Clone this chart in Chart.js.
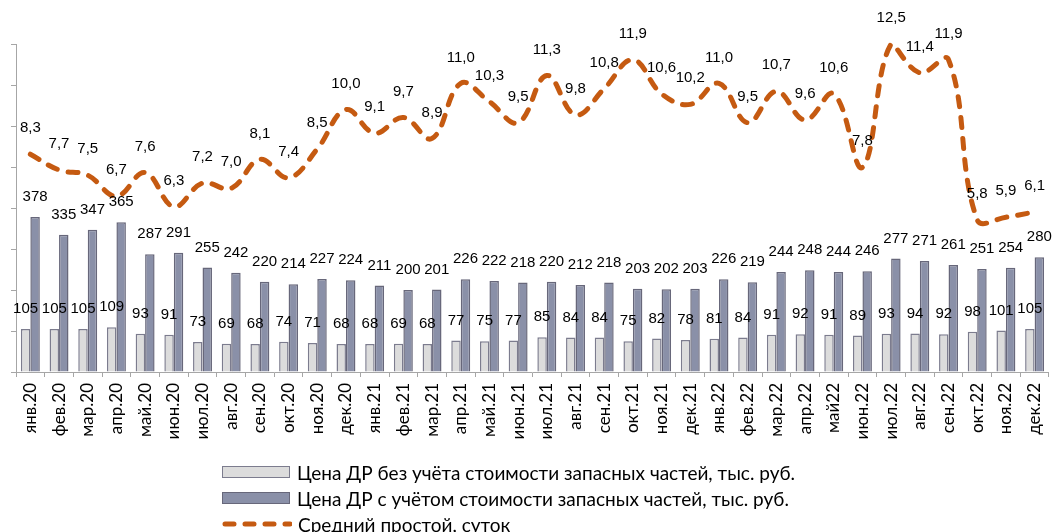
<!DOCTYPE html>
<html>
<head>
<meta charset="utf-8">
<script src="https://cdn.jsdelivr.net/npm/chart.js@4/dist/chart.umd.min.js"></script>
<style>
  html, body { margin: 0; padding: 0; background: #fff; }
  #wrap { position: relative; width: 1061px; height: 532px; overflow: hidden; }
  #legend { position: absolute; left: 222px; top: 459px; font-family: Lato, "Open Sans", sans-serif; font-size: 19px; color: #000; }
  .row { display: flex; align-items: center; height: 26px; white-space: nowrap; }
  .box { width: 66px; height: 10px; border: 1.5px solid #6f6f82; margin-right: 7px; }
  .row svg { margin-right: 6px; }
</style>
</head>
<body>
<div id="wrap">
  <canvas id="c" width="1061" height="532"></canvas>
  <div id="legend"></div>
</div>
<script>
const categories = [
  "янв.20","фев.20","мар.20","апр.20","май.20","июн.20","июл.20","авг.20","сен.20","окт.20","ноя.20","дек.20",
  "янв.21","фев.21","мар.21","апр.21","май.21","июн.21","июл.21","авг.21","сен.21","окт.21","ноя.21","дек.21",
  "янв.22","фев.22","мар.22","апр.22","май22","июн.22","июл.22","авг.22","сен.22","окт.22","ноя.22","дек.22"
];
const priceWithoutParts = [
  105,105,105,109,93,91,73,69,68,74,71,68,
  68,69,68,77,75,77,85,84,84,75,82,78,
  81,84,91,92,91,89,93,94,92,98,101,105
];
const priceWithParts = [
  378,335,347,365,287,291,255,242,220,214,227,224,
  211,200,201,226,222,218,220,212,218,203,202,203,
  226,219,244,248,244,246,277,271,261,251,254,280
];
const avgDowntime = [
  8.3,7.7,7.5,6.7,7.6,6.3,7.2,7.0,8.1,7.4,8.5,10.0,
  9.1,9.7,8.9,11.0,10.3,9.5,11.3,9.8,10.8,11.9,10.6,10.2,
  11.0,9.5,10.7,9.6,10.6,7.8,12.5,11.4,11.9,5.8,5.9,6.1
];
const seriesNames = [
  "Цена ДР без учёта стоимости запасных частей, тыс. руб.",
  "Цена ДР с учётом стоимости запасных частей, тыс. руб.",
  "Средний простой, суток"
];

const ORANGE = '#c55a11';
const AXIS = '#a6a6a6';

const labelPlugin = {
  id: 'valueLabels',
  afterDatasetsDraw(chart) {
    const ctx = chart.ctx;
    ctx.save();
    ctx.font = '15px "Liberation Sans", Arial, sans-serif';
    ctx.fillStyle = '#000';
    ctx.textAlign = 'center';
    ctx.textBaseline = 'middle';
    chart.data.datasets.forEach((ds, di) => {
      const meta = chart.getDatasetMeta(di);
      meta.data.forEach((el, i) => {
        const v = ds.data[i];
        if (ds.type === 'line') {
          ctx.fillText(v.toFixed(1).replace('.', ','), el.x, el.y - 26);
        } else {
          ctx.fillText(String(v), el.x, el.y - 20);
        }
      });
    });
    ctx.restore();
  }
};

const chart = new Chart(document.getElementById('c'), {
  data: {
    labels: categories,
    datasets: [
      {
        type: 'line', label: seriesNames[2], data: avgDowntime, yAxisID: 'y1',
        borderColor: ORANGE, borderWidth: 5, borderDash: [10, 11], borderCapStyle: 'round',
        pointRadius: 0, tension: 0.4, clip: false, order: 0, fill: false
      },
      {
        type: 'bar', label: seriesNames[0], data: priceWithoutParts, yAxisID: 'y',
        backgroundColor: '#dcdcdc', borderColor: '#7c7c8e', borderWidth: 1.5,
        categoryPercentage: 0.66, barPercentage: 1.0, order: 1
      },
      {
        type: 'bar', label: seriesNames[1], data: priceWithParts, yAxisID: 'y',
        backgroundColor: '#8a90a8', borderColor: '#67677a', borderWidth: 1.5,
        categoryPercentage: 0.66, barPercentage: 1.0, order: 1
      }
    ]
  },
  options: {
    responsive: false,
    animation: false,
    layout: { padding: { top: 44, left: 0, right: 0, bottom: 0 } },
    plugins: { legend: { display: false }, tooltip: { enabled: false } },
    scales: {
      x: {
        offset: true,
        grid: { display: true, drawOnChartArea: false, drawTicks: true, tickLength: 5, offset: true, color: AXIS },
        border: { display: true, color: AXIS, width: 1 },
        ticks: { autoSkip: false, maxRotation: 90, minRotation: 90, color: '#000', padding: 6,
                 font: { family: 'Lato, "Open Sans", sans-serif', size: 17 } },
        afterFit: (s) => { s.height = 160; }
      },
      y: {
        position: 'left', min: 0, max: 800,
        ticks: { stepSize: 100, display: false },
        grid: { display: true, drawOnChartArea: false, drawTicks: true, tickLength: 5, color: AXIS },
        border: { display: true, color: AXIS, width: 1 },
        afterFit: (s) => { s.width = 16; }
      },
      y1: {
        position: 'right', min: 0, max: 12.5, display: false
      }
    }
  },
  plugins: [labelPlugin]
});

// HTML legend built from dataset definitions
const legend = document.getElementById('legend');
[1, 2, 0].forEach((di) => {
  const ds = chart.data.datasets[di];
  const row = document.createElement('div');
  row.className = 'row';
  if (ds.type === 'bar') {
    const b = document.createElement('div');
    b.className = 'box';
    b.style.background = ds.backgroundColor;
    b.style.borderColor = ds.borderColor;
    row.appendChild(b);
  } else {
    const ns = 'http://www.w3.org/2000/svg';
    const svg = document.createElementNS(ns, 'svg');
    svg.setAttribute('width', '70'); svg.setAttribute('height', '10');
    const ln = document.createElementNS(ns, 'line');
    ln.setAttribute('x1', '3'); ln.setAttribute('y1', '5'); ln.setAttribute('x2', '68'); ln.setAttribute('y2', '5');
    ln.setAttribute('stroke', ds.borderColor); ln.setAttribute('stroke-width', '5');
    ln.setAttribute('stroke-dasharray', '9 11'); ln.setAttribute('stroke-linecap', 'round');
    svg.appendChild(ln);
    row.appendChild(svg);
  }
  const t = document.createElement('span');
  t.textContent = ds.label;
  row.appendChild(t);
  legend.appendChild(row);
});
</script>
</body>
</html>
